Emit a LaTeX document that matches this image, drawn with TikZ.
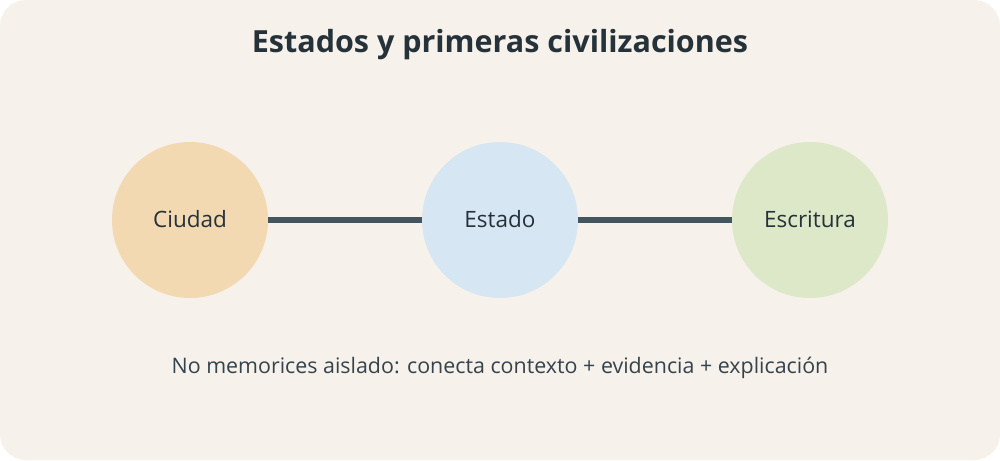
\documentclass[tikz,border=0pt]{standalone}
\usepackage{fontspec}
\setmainfont{Open Sans}
\usetikzlibrary{positioning}
\definecolor{paper}{HTML}{F6F1EA}
\definecolor{ink}{HTML}{26323A}
\definecolor{subink}{HTML}{34434D}
\definecolor{linkc}{HTML}{44555E}
\definecolor{ciudadc}{HTML}{F3D9B1}
\definecolor{estadoc}{HTML}{D6E6F2}
\definecolor{escric}{HTML}{DDE8C9}
\begin{document}
\begin{tikzpicture}[x=1pt,y=-1pt,
    era/.style={circle,minimum size=156pt,inner sep=0pt,text=ink,font=\fontsize{22.5}{27}\selectfont},
    link/.style={line width=6.5pt,linkc}]
        \useasboundingbox (0,0) rectangle (1000,460);
        \fill[white] (0,0) rectangle (1000,460);
        \fill[paper,rounded corners=26pt] (0,0) rectangle (1000,460);
        \node[text=ink,font=\fontsize{30.5}{36}\selectfont\bfseries] (title) at (500,45) {Estados y primeras civilizaciones};
        \node[era,fill=ciudadc] (ciudad) at (190,220) {\raisebox{1.5pt}{Ciudad}};
        \node[era,fill=estadoc] (estado) at (500,220) {\raisebox{1.5pt}{Estado}};
        \node[era,fill=escric] (escritura) at (810,220) {\raisebox{1.5pt}{Escritura}};
        \draw[link] (ciudad)--(estado);
        \draw[link] (estado)--(escritura);
        \node[text=subink,font=\fontsize{21.4}{26}\selectfont] (nota) at (500,368) {No memorices aislado: conecta contexto + evidencia + explicación};
    \end{tikzpicture}
\end{document}
